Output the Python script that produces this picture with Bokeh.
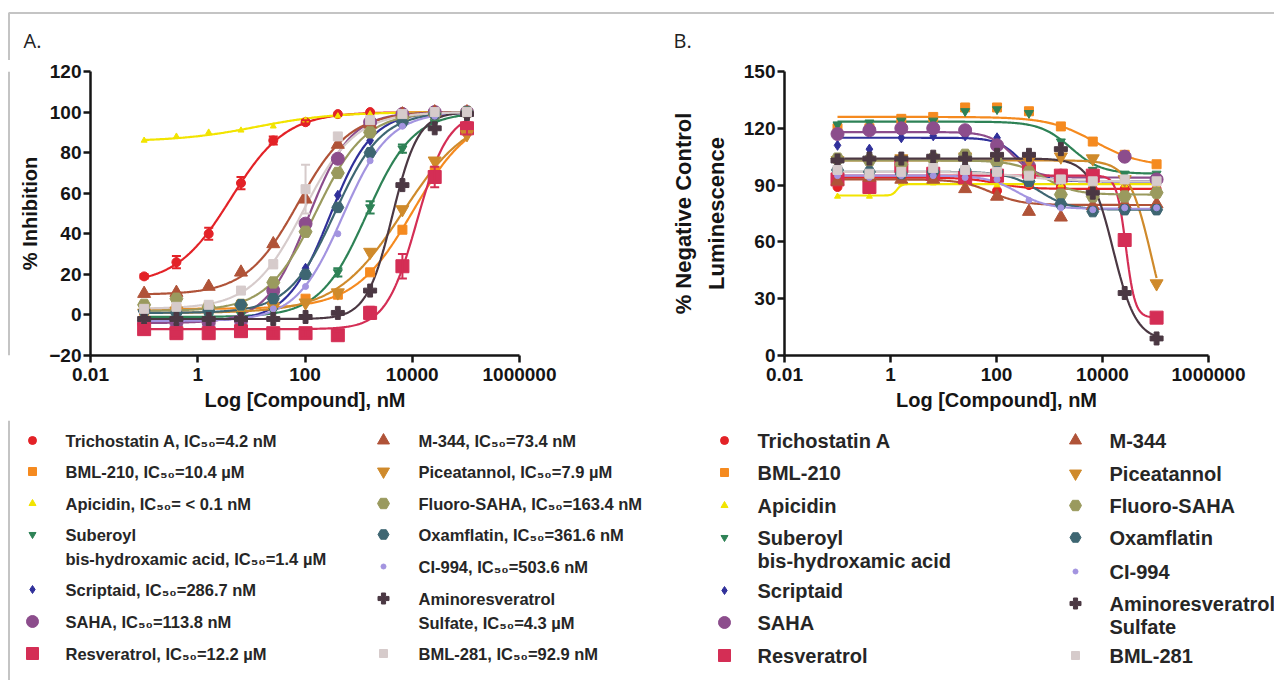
import numpy as np
from bokeh.plotting import figure
from bokeh.layouts import column, row
from bokeh.models import (Range1d, FixedTicker, CustomJSTickFormatter, Whisker, TeeHead,
                          ColumnDataSource, Label)
from bokeh.core.properties import value
from bokeh.embed import file_html
from bokeh.resources import INLINE

# ---------------- data ----------------
conc_nM = [0.1, 0.4, 1.6, 6.4, 25.6, 102.4, 409.6, 1638.4, 6553.6, 26214.4, 104857.6]

compounds = ["Trichostatin A", "BML-210", "Apicidin", "Suberoyl\nbis-hydroxamic acid", "Scriptaid",
             "SAHA", "Resveratrol", "M-344", "Piceatannol", "Fluoro-SAHA", "Oxamflatin", "CI-994",
             "Aminoresveratrol\nSulfate", "BML-281"]
ic50_text = ["=4.2 nM", "=10.4 µM", "= < 0.1 nM", "=1.4 µM", "=286.7 nM", "=113.8 nM", "=12.2 µM",
             "=73.4 nM", "=7.9 µM", "=163.4 nM", "=361.6 nM", "=503.6 nM", "=4.3 µM", "=92.9 nM"]

# Panel A: % inhibition
inh_trichostatin = [19, 26, 40, 65, 86, 95, 99, 100, 100, 100, 100]
inh_bml210 = [2, 3, 4, 5, 6, 8, 10, 21, 42, 71, 91]
inh_apicidin = [86, 88, 90, 91, 93, 96, 98, 99, 100, 100, 100]
inh_sbha = [-2, -2, -1, 0, 2, 6, 21, 53, 82, 95, 99]
inh_scriptaid = [-3, -3, -2, -2, 3, 23, 59, 86, 96, 99, 100]
inh_saha = [-4, -4, -4, -3, 12, 45, 77, 95, 99, 100, 100]
inh_resveratrol = [-7, -9, -9, -8, -9, -9, -10, 1, 24, 68, 92]
inh_m344 = [10.5, 11, 14, 21, 35, 57, 84, 94, 99, 100, 100]
inh_piceatannol = [1, 2, 2, 3, 4, 6, 11, 31, 52, 76, 89]
inh_fluorosaha = [5, 8, 4, 5, 16, 41, 70, 90, 97, 99, 100]
inh_oxamflatin = [2, 1, 2, 5, 8, 20, 53, 80, 95, 99, 100]
inh_ci994 = [-3, -3, -2, -1, 3, 14, 40, 76, 93, 98, 100]
inh_aminoresv = [-2, -2, -2, -2, -2, -1, 1, 12, 64, 92, 99]
inh_bml281 = [3, 4, 5, 12, 25, 62, 88, 96, 99, 100, 100]

# Panel A error bars (SEM)
err_trichostatin = [1, 3, 3, 3, 2, 1, 0, 0, 0, 0, 0]
err_resveratrol = [2, 2, 2, 1, 2, 2, 2, 3, 6, 5, 3]
err_bml281 = [0, 0, 0, 0, 2, 12, 0, 0, 0, 0, 0]
err_sbha = [0, 0, 0, 0, 0, 0, 2, 3, 2, 0, 0]

# Panel A fitted 4PL parameters (left plateau, right plateau, log IC50, Hill slope)
fitA_left = [15, 3, 85.5, -1, -3, -4, -7, 10, 1, 2, 1, -3, -2, 3]
fitA_right = [100, 100, 100, 100, 100, 100, 100, 100, 100, 100, 100, 100, 100, 100]
fitA_logc = [0.62, 4.02, 1.1, 3.15, 2.46, 2.06, 4.09, 1.87, 3.82, 2.21, 2.56, 2.70, 3.63, 1.97]
fitA_hill = [0.85, 0.8, 0.6, 1.0, 1.1, 1.1, 1.5, 0.9, 0.7, 0.95, 1.0, 1.0, 1.8, 0.9]

# Panel B: % negative control luminescence
lum_trichostatin = [89, 92, 94, 95, 93, 87, 90, 89, 88, 88, 88]
lum_bml210 = [120, 120, 125, 126, 131, 131, 129, 121, 113, 106, 101]
lum_apicidin = [84, 84, 91, 91, 91, 90, 90, 90, 90, 90, 90]
lum_sbha = [122, 123, 124, 124, 129, 130, 128, 113, 98, 96, 96]
lum_scriptaid = [111, 109, 115, 116, 116, 115, 103, 93, 92, 92, 92]
lum_saha = [117, 119, 120, 120, 119, 111, 100, 95, 94, 105, 93]
lum_resveratrol = [93, 89, 100, 96, 94, 95, 97, 95, 95, 61, 20]
lum_m344 = [92, 94, 93, 93, 88, 84, 76, 73, 79, 80, 80]
lum_piceatannol = [103, 102, 104, 103, 105, 104, 103, 105, 104, 93, 38]
lum_fluorosaha = [104, 103, 101, 104, 106, 102, 97, 85, 84, 84, 86]
lum_oxamflatin = [98, 97, 96, 97, 98, 97, 92, 80, 76, 77, 77]
lum_ci994 = [95, 94, 95, 95, 94, 93, 82, 78, 77, 78, 78]
lum_aminoresv = [103, 104, 104, 105, 104, 106, 106, 109, 86, 33, 9]
lum_bml281 = [98, 96, 97, 99, 98, 97, 95, 93, 92, 93, 92]

fitB_left = [94, 126, 84.5, 123.5, 115, 118, 95, 93, 103, 103, 97, 95, 104, 97]
fitB_right = [88, 100, 90.5, 96, 92, 94, 20, 79.5, 0, 85, 77, 77.5, 8, 92]
fitB_logc = [2.0, 3.85, 0.12, 3.4, 2.45, 2.3, 4.44, 1.9, 4.93, 2.9, 2.8, 2.4, 4.2, 2.5]
fitB_hill = [1.5, 1.0, 10, 1.5, 2.0, 2.0, 5.0, 1.5, 2.0, 1.5, 1.5, 1.5, 2.0, 1.0]

x_ticks = [0.01, 1, 100, 10000, 1000000]
yA_ticks = [-20, 0, 20, 40, 60, 80, 100, 120]
yB_ticks = [0, 30, 60, 90, 120, 150]

inhibition = [inh_trichostatin, inh_bml210, inh_apicidin, inh_sbha, inh_scriptaid, inh_saha,
              inh_resveratrol, inh_m344, inh_piceatannol, inh_fluorosaha, inh_oxamflatin, inh_ci994,
              inh_aminoresv, inh_bml281]
luminescence = [lum_trichostatin, lum_bml210, lum_apicidin, lum_sbha, lum_scriptaid, lum_saha,
                lum_resveratrol, lum_m344, lum_piceatannol, lum_fluorosaha, lum_oxamflatin, lum_ci994,
                lum_aminoresv, lum_bml281]
errorsA = {0: err_trichostatin, 6: err_resveratrol, 13: err_bml281, 3: err_sbha}

# ---------------- styles ----------------
colors = ["#e32227", "#f58a1f", "#f2e400", "#2e8256", "#30309a", "#8c4d8c", "#d42e55",
          "#b05338", "#cf8a2b", "#9a9a5e", "#3e6672", "#a394e0", "#4b3843", "#d6cbcb"]
markers = ["circle", "square", "triangle", "inverted_triangle", "diamond", "circle", "square",
           "triangle", "inverted_triangle", "hex", "hex", "circle", "plus", "square"]
sizes = [9, 9, 6, 9, 10, 13, 13, 13, 13, 13, 12, 6, 13, 9]
FONT = "Liberation Sans"
INK = "#151515"


def four_pl(logx, left, right, logc, hill):
    return right + (left - right) / (1.0 + 10.0 ** ((logx - logc) * hill))


def make_panel(width, mb_left, mb_right, mb_bottom, yrange, yticks, ylabel, values,
               left, right, logc, hill, errors, ylabel_standoff, ylabel_size, ylabel_lh):
    p = figure(width=width, height=360, x_axis_type="log", x_range=Range1d(0.01, 1e6),
               y_range=Range1d(*yrange), output_backend="svg", toolbar_location=None,
               min_border_left=mb_left, min_border_right=mb_right, min_border_top=11,
               min_border_bottom=mb_bottom)
    p.grid.visible = False
    p.outline_line_color = None
    p.background_fill_color = "white"
    p.border_fill_color = "white"
    p.xaxis.ticker = FixedTicker(ticks=x_ticks, minor_ticks=[])
    p.xaxis.formatter = CustomJSTickFormatter(code="return String(tick);")
    p.yaxis.ticker = FixedTicker(ticks=yticks, minor_ticks=[])
    for ax in (p.xaxis[0], p.yaxis[0]):
        ax.axis_line_width = 2.5
        ax.axis_line_color = INK
        ax.major_tick_line_width = 2.5
        ax.major_tick_line_color = INK
        ax.major_tick_out = 7
        ax.major_tick_in = 0
        ax.minor_tick_out = 0
        ax.minor_tick_in = 0
        ax.major_label_text_font = FONT
        ax.major_label_text_font_style = "bold"
        ax.major_label_text_font_size = "19px"
        ax.major_label_text_color = INK
        ax.axis_label_text_font = FONT
        ax.axis_label_text_font_style = "bold"
        ax.axis_label_text_color = INK
    p.xaxis.axis_label = "Log [Compound], nM"
    p.xaxis.axis_label_text_font_size = "20px"
    p.xaxis.major_label_standoff = 5
    p.xaxis.axis_label_standoff = 5
    p.yaxis.axis_label = ylabel
    p.yaxis.axis_label_text_font_size = ylabel_size
    if ylabel_lh is not None:
        p.yaxis.axis_label_text_line_height = ylabel_lh
    p.yaxis.major_label_standoff = 2
    p.yaxis.axis_label_standoff = ylabel_standoff

    logx = np.linspace(np.log10(conc_nM[0]), np.log10(conc_nM[-1]), 300)
    for i in range(len(values)):
        yfit = four_pl(logx, left[i], right[i], logc[i], hill[i])
        p.line(10 ** logx, yfit, line_color=colors[i], line_width=2.2)
    for i in range(len(values)):
        if i in errors:
            e = errors[i]
            xs = [c for c, ee in zip(conc_nM, e) if ee > 0]
            lo = [v - ee for v, ee in zip(values[i], e) if ee > 0]
            hi = [v + ee for v, ee in zip(values[i], e) if ee > 0]
            src = ColumnDataSource(dict(x=xs, lo=lo, hi=hi))
            w = Whisker(source=src, base="x", lower="lo", upper="hi", line_color=colors[i],
                        line_width=2, level="glyph",
                        upper_head=TeeHead(size=9, line_color=colors[i], line_width=2),
                        lower_head=TeeHead(size=9, line_color=colors[i], line_width=2))
            p.add_layout(w)
        p.scatter(conc_nM, values[i], marker=markers[i], size=sizes[i],
                  fill_color=colors[i], line_color=colors[i])
    return p


pA = make_panel(630, 80, 121, 65, (-20, 120), yA_ticks, "% Inhibition", inhibition,
                fitA_left, fitA_right, fitA_logc, fitA_hill, errorsA, 5, "20px", None)
pB = make_panel(634, 144, 66, 64, (0, 150), yB_ticks, "% Negative Control\nLuminescence",
                luminescence, fitB_left, fitB_right, fitB_logc, fitB_hill, {}, 12, "22px", 1.3)


def pixel_fig(w, h, y0):
    f = figure(width=w, height=h, x_range=Range1d(0, w), y_range=Range1d(y0 + h, y0),
               output_backend="svg", toolbar_location=None, min_border=0,
               x_axis_location=None, y_axis_location=None)
    f.grid.visible = False
    f.outline_line_color = None
    f.background_fill_color = "white"
    f.border_fill_color = "white"
    return f


BORDER = "#c4c4c4"
# top strip with panel letters and frame border
top = pixel_fig(1274, 60, 0)
top.line([8.5, 8.5, 1274], [60, 12.5, 12.5], line_color=BORDER, line_width=2)
for lx, ltxt in ((23, "A."), (673, "B.")):
    top.add_layout(Label(x=lx, y=40, text=ltxt, text_font="Open Sans", text_font_size="20px",
                         text_color="#222222", text_baseline="middle", text_align="left"))

# narrow left strip carrying the border line next to panel A
strip = figure(width=10, height=360, x_range=Range1d(0, 10), y_range=Range1d(420, 60),
               output_backend="svg", toolbar_location=None, min_border=0,
               x_axis_location=None, y_axis_location=None)
strip.grid.visible = False
strip.outline_line_color = None
strip.line([8.5, 8.5], [60, 420], line_color=BORDER, line_width=2)

# legends
leg = pixel_fig(1274, 260, 420)
leg.line([8.5, 8.5], [420, 680], line_color=BORDER, line_width=2)

legA_rows = [440, 471, 503, 534, 589, 621, 653, 440, 471, 503, 534, 566, 598, 653]
legB_rows = [440, 472, 505, 537, 590, 622, 655, 440, 473, 505, 537, 571, 603, 655]
legA_cols = [(32, 65), (383, 418)]
legB_cols = [(724, 757), (1075, 1109)]
legend_sizes = [8, 8, 7, 7, 8, 12, 12, 12, 12, 12, 11, 5, 11, 8]


def draw_legend(rows, cols, with_ic50, font_size, line_gap):
    mx, my, mk, ms, mc = [], [], [], [], []
    tx, ty, tt = [], [], []
    for i, name in enumerate(compounds):
        cx, tx0 = cols[0] if i < 7 else cols[1]
        y = rows[i]
        mx.append(cx); my.append(y); mk.append(markers[i]); ms.append(legend_sizes[i]); mc.append(colors[i])
        lines = name.split("\n")
        if with_ic50:
            lines[-1] = lines[-1] + ", IC₅₀" + ic50_text[i]
        for k, ln in enumerate(lines):
            tx.append(tx0); ty.append(y + k * line_gap); tt.append(ln)
    src = ColumnDataSource(dict(x=mx, y=my, marker=mk, size=ms, color=mc))
    leg.scatter(x="x", y="y", marker="marker", size="size", fill_color="color",
                line_color="color", source=src)
    leg.text(x=tx, y=ty, text=tt, text_font=value(FONT), text_font_style="bold",
             text_font_size=font_size, text_color="#262626", text_baseline="middle",
             text_align="left")


draw_legend(legA_rows, legA_cols, True, "16.5px", 24)
draw_legend(legB_rows, legB_cols, False, "20px", 23)

layout = column(top, row(strip, pA, pB), leg)
open("out.html", "w").write(file_html(layout, INLINE))
